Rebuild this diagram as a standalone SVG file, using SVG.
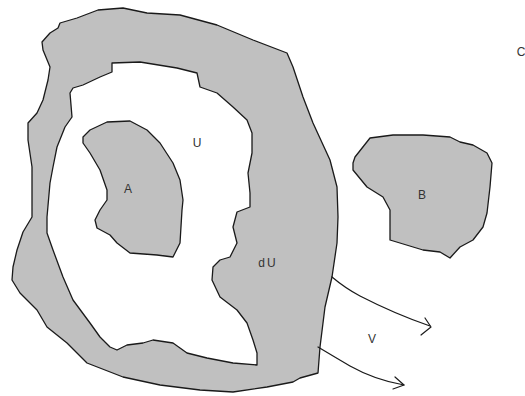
<svg xmlns="http://www.w3.org/2000/svg" width="525" height="396" viewBox="0 0 525 396">
<style>
.region{fill:#c0c0c0;stroke:#1a1a1a;stroke-width:1.3;stroke-linejoin:round;fill-rule:evenodd}
.lbl{font-family:"Liberation Sans",Arial,sans-serif;font-size:12px;fill:#333;text-anchor:middle}
.arr{fill:none;stroke:#1a1a1a;stroke-width:1.2;stroke-linecap:round;stroke-linejoin:round}
</style>
<rect width="525" height="396" fill="#fff"/>
<g id="U-dU">
<path class="region" d="M42,42 L50,33 L58,28 L60,23 L77,18 L98,10 L123,8 L147,13 L180,15 L217,25 L253,40 L287,53 L293,67 L303,97 L313,123 L330,160 L337,187 L338,217 L337,243 L332,277 L325,307 L320,347 L318,373 L300,378 L293,382 L267,387 L233,392 L200,390 L160,385 L123,377 L87,363 L67,343 L47,327 L37,310 L20,293 L12,280 L13,267 L17,250 L23,232 L32,217 L32,167 L28,140 L28,123 L37,113 L43,100 L48,80 L50,67 L43,50 Z M70,93 L73,88 L83,85 L100,77 L112,72 L112,63 L140,62 L177,68 L197,73 L200,87 L217,93 L233,107 L247,120 L252,133 L252,153 L248,173 L250,193 L250,207 L237,212 L233,227 L237,243 L230,257 L220,260 L213,267 L212,280 L220,297 L237,310 L247,323 L253,340 L257,353 L257,365 L233,363 L207,358 L187,353 L173,343 L153,340 L143,343 L127,345 L117,350 L110,347 L100,337 L90,323 L73,300 L63,277 L53,250 L47,233 L47,217 L50,183 L53,167 L57,147 L65,127 L72,117 Z"/>
<text class="lbl" x="197" y="147">U</text>
<text class="lbl" x="268" y="267" letter-spacing="2">dU</text>
</g>
<g id="A">
<path class="region" d="M83,137 L90,130 L107,122 L130,121 L147,130 L160,143 L173,163 L180,180 L183,200 L182,210 L180,243 L173,257 L157,255 L130,253 L117,243 L110,235 L97,228 L95,220 L100,210 L107,200 L107,190 L100,170 L90,153 L83,143 Z"/>
<text class="lbl" x="128" y="193">A</text>
</g>
<g id="B">
<path class="region" d="M353,163 L355,157 L370,138 L393,135 L423,135 L450,137 L460,142 L473,145 L487,153 L492,163 L490,187 L487,213 L483,227 L473,240 L460,247 L450,258 L440,252 L423,250 L390,240 L390,210 L383,197 L367,187 L353,170 Z"/>
<text class="lbl" x="422" y="199">B</text>
</g>
<g id="C">
<text class="lbl" x="521" y="56">C</text>
</g>
<g id="connectors">
<path class="arr" d="M332,277 Q345,288 360,296 Q395,314 430,326"/>
<path class="arr" d="M425,318 L431,327 L421,335"/>
<path class="arr" d="M318,347 Q333,356 350,366 Q375,380 404,385"/>
<path class="arr" d="M395,377 L404,385 L393,389"/>
<text class="lbl" x="372" y="343">V</text>
</g>
</svg>
